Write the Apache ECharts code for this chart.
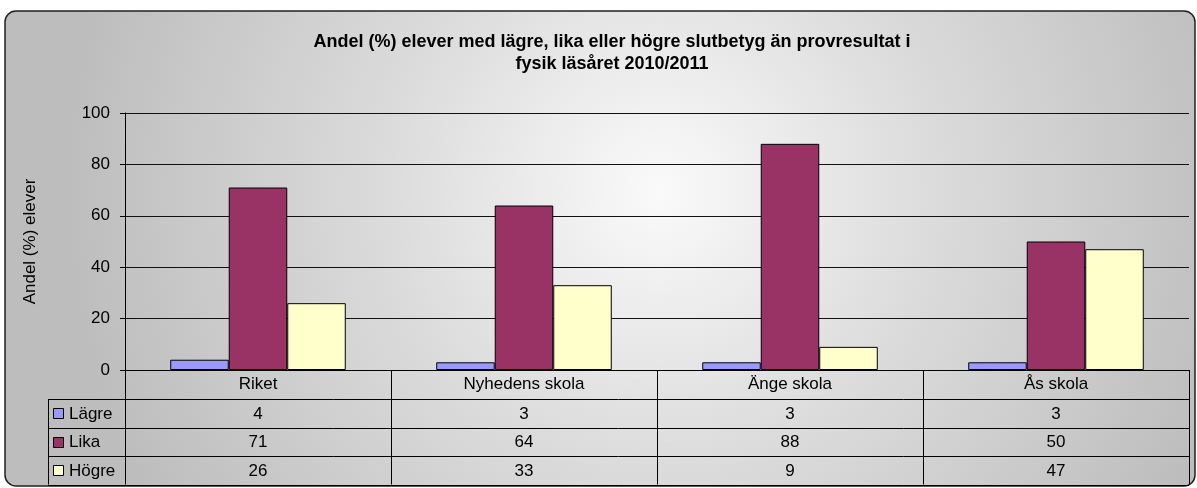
<!DOCTYPE html>
<html>
<head>
<meta charset="utf-8">
<script src="https://cdn.jsdelivr.net/npm/echarts@6/dist/echarts.min.js"></script>
<style>
  html, body { margin: 0; padding: 0; background: #fff; }
  #main { width: 1197px; height: 488px; }
</style>
</head>
<body>
<div id="main"></div>
<script>
var categories = ["Riket", "Nyhedens skola", "Änge skola", "Ås skola"];
var seriesNames = ["Lägre", "Lika", "Högre"];
var lagre = [4, 3, 3, 3];
var lika = [71, 64, 88, 50];
var hogre = [26, 33, 9, 47];
var seriesColors = ["#9999ff", "#993366", "#ffffcc"];
var yTicks = [0, 20, 40, 60, 80, 100];

var FONT = "'Liberation Sans', Arial, sans-serif";
var FS = 17;
var chart = echarts.init(document.getElementById("main"));

var seriesData = [lagre, lika, hogre];

var option = {
  animation: false,
  title: {
    text: "Andel (%) elever med lägre, lika eller högre slutbetyg än provresultat i\nfysik läsåret 2010/2011",
    left: 607,
    textAlign: "center",
    top: 26,
    textStyle: { fontFamily: FONT, fontSize: 18, fontWeight: "bold", color: "#000", lineHeight: 22 }
  },
  grid: { left: 125, right: 8, top: 113, bottom: 118 },
  xAxis: {
    type: "category",
    data: categories,
    axisLine: { lineStyle: { color: "#000", width: 1 } },
    axisTick: { show: true, length: 29, lineStyle: { color: "#000", width: 1 } },
    axisLabel: { fontFamily: FONT, fontSize: FS, color: "#000", margin: 6 }
  },
  yAxis: {
    type: "value",
    min: 0,
    max: 100,
    interval: 20,
    name: "Andel (%) elever",
    nameLocation: "middle",
    nameGap: 86,
    nameTextStyle: { fontFamily: FONT, fontSize: FS, color: "#000" },
    axisLine: { show: true, lineStyle: { color: "#000", width: 1 } },
    axisTick: { show: true, length: 5, lineStyle: { color: "#000" } },
    axisLabel: {
      fontFamily: FONT, fontSize: FS, color: "#000", margin: 15,
      formatter: function (v) { return yTicks.indexOf(v) >= 0 ? String(v) : ""; }
    },
    splitLine: { show: true, lineStyle: { color: "#111", width: 1 } }
  },
  series: seriesNames.map(function (name, i) {
    return {
      name: name,
      type: "bar",
      data: seriesData[i],
      barWidth: "22%",
      barGap: "0%",
      itemStyle: { color: seriesColors[i], borderColor: "#000", borderWidth: 1 }
    };
  })
};
chart.setOption(option);

// data table below the axis
var catW = chart.convertToPixel({ xAxisIndex: 0 }, categories[1]) - chart.convertToPixel({ xAxisIndex: 0 }, categories[0]);
var x0 = chart.convertToPixel({ xAxisIndex: 0 }, categories[0]) - catW / 2;
var tableLeft = 48;
var rowTop = 399;
var rowH = 28.5;
var tableRight = x0 + catW * categories.length;
var tableBottom = rowTop + rowH * seriesNames.length;

var graphics = [{
  type: "rect",
  z: -10,
  silent: true,
  shape: { x: 5, y: 11, width: 1190, height: 475, r: 11 },
  style: {
    fill: {
      type: "radial", x: 0.55, y: 0.38, r: 1.25,
      colorStops: [
        { offset: 0, color: "#fafafa" },
        { offset: 0.45, color: "#dcdcdc" },
        { offset: 1, color: "#bdbdbd" }
      ]
    },
    stroke: "#222",
    lineWidth: 1.5
  }
}];

// horizontal lines
for (var r = 0; r <= seriesNames.length; r++) {
  var yy = Math.round(rowTop + rowH * r) + 0.5;
  graphics.push({ type: "line", silent: true, shape: { x1: tableLeft, y1: yy, x2: tableRight, y2: yy }, style: { stroke: "#000", lineWidth: 1 } });
}
// vertical lines
var vx = [tableLeft];
for (var c = 0; c <= categories.length; c++) vx.push(x0 + catW * c);
vx.forEach(function (x) {
  var xx = Math.round(x) + 0.5;
  graphics.push({ type: "line", silent: true, shape: { x1: xx, y1: rowTop, x2: xx, y2: tableBottom }, style: { stroke: "#000", lineWidth: 1 } });
});
// legend keys + values
seriesNames.forEach(function (name, i) {
  var cy = rowTop + rowH * i + rowH / 2;
  graphics.push({ type: "rect", silent: true, shape: { x: 53.5, y: Math.round(cy - 5) + 0.5, width: 10, height: 10 }, style: { fill: seriesColors[i], stroke: "#000", lineWidth: 1 } });
  graphics.push({ type: "text", silent: true, x: 69, y: cy + 1, style: { text: name, fontFamily: FONT, fontSize: FS, fill: "#000", verticalAlign: "middle" } });
  seriesData[i].forEach(function (v, j) {
    graphics.push({ type: "text", silent: true, x: x0 + catW * (j + 0.5), y: cy + 1, style: { text: String(v), fontFamily: FONT, fontSize: FS, fill: "#000", align: "center", verticalAlign: "middle" } });
  });
});

chart.setOption({ graphic: graphics });
</script>
</body>
</html>
